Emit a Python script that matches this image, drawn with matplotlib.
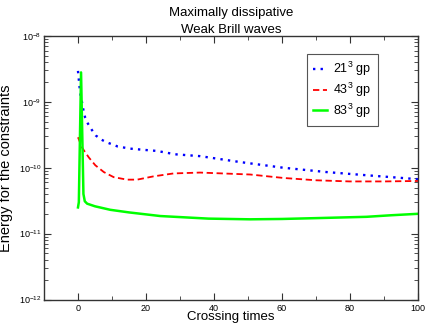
import numpy as np
import matplotlib
matplotlib.use('Agg')
import matplotlib.pyplot as plt
from matplotlib.ticker import MultipleLocator, FixedLocator, NullFormatter

plt.rcParams['font.family'] = ['Liberation Sans', 'DejaVu Sans']
plt.rcParams['mathtext.fontset'] = 'custom'
plt.rcParams['mathtext.rm'] = 'Liberation Sans'

# 21^3 grid points
t_21 = [0, 0.2, 0.4, 0.6, 1.0, 1.3, 1.7, 2.1, 2.9, 4.0, 5.2, 6.7, 8.3, 11.7, 15.4,
        19.3, 23.2, 28.6, 35.9, 47.7, 60.4, 73.1, 84.8, 100]
e_21 = [2.95e-9, 2.3e-9, 1.8e-9, 1.43e-9, 1.1e-9, 0.92e-9, 0.7e-9, 0.58e-9, 0.47e-9,
        0.38e-9, 0.31e-9, 0.27e-9, 0.245e-9, 0.21e-9, 0.195e-9, 0.187e-9, 0.18e-9,
        0.16e-9, 0.15e-9, 0.122e-9, 0.1e-9, 0.086e-9, 0.077e-9, 0.067e-9]

# 43^3 grid points
t_43 = [0, 0.5, 1.0, 1.7, 3.2, 5.1, 7.6, 10.5, 14.4, 17.4, 22.2, 28.1, 35.9, 50.6,
        60.4, 70.1, 79.9, 90, 100]
e_43 = [2.9e-10, 2.5e-10, 2.1e-10, 1.85e-10, 1.43e-10, 1.09e-10, 0.86e-10, 0.72e-10,
        0.66e-10, 0.66e-10, 0.74e-10, 0.82e-10, 0.845e-10, 0.79e-10, 0.7e-10,
        0.645e-10, 0.62e-10, 0.62e-10, 0.63e-10]

# 83^3 grid points
t_83 = [0, 0.25, 0.9, 1.6, 2.0, 2.7, 5, 9.5, 15, 24.2, 38.4, 50.6, 60, 70.1, 84.8, 92, 100]
e_83 = [2.5e-11, 3e-11, 2.8e-9, 4e-11, 3.1e-11, 2.85e-11, 2.6e-11, 2.3e-11, 2.1e-11,
        1.85e-11, 1.69e-11, 1.65e-11, 1.67e-11, 1.72e-11, 1.8e-11, 1.9e-11, 2.0e-11]

y_major = [1e-12, 1e-11, 1e-10, 1e-9, 1e-8]

fig = plt.figure(figsize=(4.27, 3.27), dpi=100)
ax = fig.add_axes([0.103, 0.084, 0.876, 0.806])

ax.plot(t_21, e_21, color='#0000ff', linestyle=(0, (1, 2.2)), linewidth=1.7, label=r'21$^3$ gp')
ax.plot(t_43, e_43, color='#ff0000', linestyle=(0, (3.5, 2)), linewidth=1.3, label=r'43$^3$ gp')
ax.plot(t_83, e_83, color='#00ff00', linestyle='-', linewidth=1.8, label=r'83$^3$ gp')

ax.set_yscale('log')
ax.set_xlim(-10, 100)
ax.set_ylim(1e-12, 1e-8)
ax.set_xticks([0, 20, 40, 60, 80, 100])
ax.xaxis.set_minor_locator(MultipleLocator(10))
ax.set_yticks(y_major)
minor_y = [m * d for d in y_major[:-1] for m in range(2, 10)]
ax.yaxis.set_minor_locator(FixedLocator(minor_y))
ax.yaxis.set_minor_formatter(NullFormatter())

ax.tick_params(which='both', direction='in', top=True, right=True, labelsize=6.5, colors='#333333',
               labelcolor='black')
ax.tick_params(which='major', length=5, width=0.8)
ax.tick_params(which='minor', length=3, width=0.6)
ax.tick_params(axis='x', pad=3)
ax.tick_params(axis='y', pad=2)
for s in ax.spines.values():
    s.set_color('#333333')
    s.set_linewidth(1.0)

ax.set_xlabel('Crossing times', fontsize=9.5)
ax.xaxis.set_label_coords(0.5, -0.045)
ax.set_ylabel('Energy for the constraints', fontsize=10.5)
ax.yaxis.set_label_coords(-0.082, 0.5)
ax.set_title('Maximally dissipative\nWeak Brill waves', fontsize=9.5, pad=2, linespacing=1.6)

leg = ax.legend(loc='upper left', bbox_to_anchor=(0.702, 0.932), fontsize=9, fancybox=False,
                framealpha=1, edgecolor='#555555', handlelength=1.1, handletextpad=0.55,
                borderpad=0.5, labelspacing=0.2, borderaxespad=0)
leg.get_frame().set_linewidth(0.8)

fig.savefig('out.png', dpi=100)
